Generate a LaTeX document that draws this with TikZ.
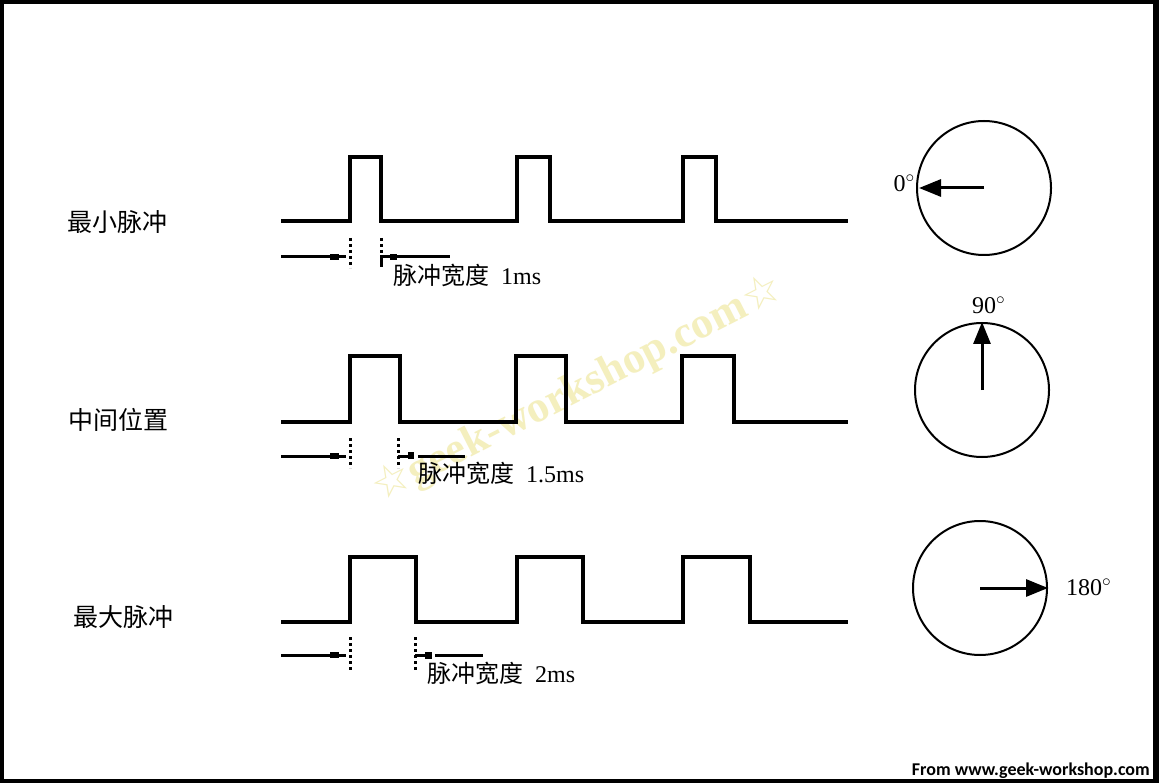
\documentclass[tikz,border=0pt]{standalone}
\usepackage{fontspec}
\setmainfont{Liberation Serif}
\newfontfamily\cjk{Noto Sans CJK SC}
\newfontfamily\starfont{DejaVu Sans}
\newfontfamily\webfont{Carlito}
\usetikzlibrary{arrows.meta}
\definecolor{wmyellow}{RGB}{244,239,190}
\tikzset{>=latex}
\tikzset{
  wave/.style = {line width = 3.5pt, line join = miter},
  markline/.style = {line width = 3pt},
  dotline/.style = {line width = 3pt, dash pattern = on 3pt off 3pt},
  dial/.style = {circle, draw, line width = 2pt, inner sep = 0pt, minimum size = 134pt},
  needle/.style = {line width = 3pt, -{Triangle[length = 22pt, width = 17pt]}},
  rowlabel/.style = {inner sep = 0pt, font = \fontsize{25}{30}\selectfont\cjk},
  widthlabel/.style = {anchor = west, inner sep = 0pt, font = \fontsize{24}{28}\selectfont},
  anglabel/.style = {inner sep = 0pt, font = \fontsize{24}{28}\selectfont}
}

\begin{document}
\begin{tikzpicture}[x = 1pt, y = -1pt]
\useasboundingbox (0,0) rectangle (1159,783);
% frame
\fill[black] (0,0) rectangle (1159,783);
\fill[white] (4,4) rectangle (1153,779);
% watermark
\node[rotate = 27, text = wmyellow, font = \fontsize{44}{50}\selectfont\bfseries] (wmark) at (578,390) {{\starfont ☆}geek-workshop.com{\starfont ☆}};

% minimum pulse
\node[rowlabel] (rowmin) at (117,222) {最小脉冲};
\draw[wave] (281,221) -| (350,157) -| (381,221) -| (517,157) -| (550,221) -| (683,157) -| (716,221) -- (848,221);
\draw[markline] (281,257) -- (346,257);
\fill (330,254) rectangle (339,260);
\draw[dotline] (350,238) -- (350,268);
\draw[dotline] (381,238) -- (381,253);
\draw[markline] (381,267) |- (450,257);
\fill (390,254) rectangle (397,260);
\node[widthlabel] (wmin) at (393,275) {{\cjk 脉冲宽度}\hspace{12pt}1ms};

% middle position
\node[rowlabel] (rowmid) at (118,420) {中间位置};
\draw[wave] (281,422) -| (350,356) -| (400,422) -| (516,356) -| (566,422) -| (682,356) -| (734,422) -- (848,422);
\draw[markline] (281,456) -- (346,456);
\fill (330,453) rectangle (339,459);
\draw[dotline] (350,438) -- (350,468);
\draw[dotline] (398,438) -- (398,468);
\draw[markline] (398,456) -- (408,456);
\fill (408,452) rectangle (414,459);
\draw[markline] (418,456) -- (465,456);
\node[widthlabel] (wmid) at (418,473) {{\cjk 脉冲宽度}\hspace{12pt}1.5ms};

% maximum pulse
\node[rowlabel] (rowmax) at (123,617) {最大脉冲};
\draw[wave] (281,622) -| (350,557) -| (416,622) -| (517,557) -| (583,622) -| (683,557) -| (750,622) -- (848,622);
\draw[markline] (281,655) -- (346,655);
\fill (330,652) rectangle (339,658);
\draw[dotline] (350,637) -- (350,673);
\draw[dotline] (415,637) -- (415,673);
\draw[markline] (415,655) -- (425,655);
\fill (425,652) rectangle (432,659);
\draw[markline] (435,655) -- (483,655);
\node[widthlabel] (wmax) at (427,673) {{\cjk 脉冲宽度}\hspace{12pt}2ms};

% dials
\node[dial] (dialmin) at (984,188) {};
\coordinate (cmin) at (984,188);
\draw[needle, shorten > = 3pt] (cmin) -- (dialmin.west);
\node[anglabel, anchor = east] (amin) at (915,183) {0$^{\circ}$};

\node[dial] (dialmid) at (982,390) {};
\coordinate (cmid) at (982,390);
\draw[needle] (cmid) -- (dialmid.north);
\node[anglabel, anchor = west] (amid) at (972,305) {90$^{\circ}$};

\node[dial] (dialmax) at (980,588) {};
\coordinate (cmax) at (980,588);
\draw[needle] (cmax) -- (dialmax.east);
\node[anglabel, anchor = west] (amax) at (1066,587) {180$^{\circ}$};

% source note
\node[anchor = east, inner sep = 0pt, font = \fontsize{18}{20}\selectfont\webfont\bfseries] (source) at (1150,771) {From www.geek-workshop.com};
\end{tikzpicture}
\end{document}
